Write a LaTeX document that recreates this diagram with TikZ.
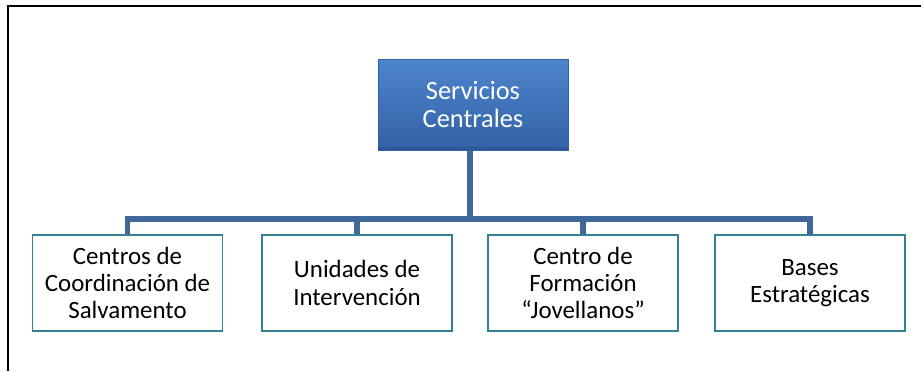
\documentclass[tikz,border=0pt]{standalone}
\usepackage{fontspec}
\setmainfont{Carlito}
\definecolor{busblue}{RGB}{64,104,152}
\definecolor{topblue}{RGB}{78,132,204}
\definecolor{topbluedark}{RGB}{50,98,166}
\definecolor{teal}{RGB}{52,128,148}
\definecolor{tealdark}{RGB}{38,94,110}
\definecolor{teallight}{RGB}{90,185,210}
\tikzset{
  childbox/.style={draw=teal, line width=1.6pt, fill=white, minimum width=190bp, minimum height=96bp, inner sep=0pt, align=center, font=\fontsize{25}{27.5}\selectfont, text=black},
  topbox/.style={draw=topbluedark, line width=0.8pt, top color=topblue, bottom color=topbluedark, minimum width=190bp, minimum height=91bp, inner sep=0pt, align=center, font=\fontsize{26.5}{28}\selectfont, text=white},
  conn/.style={draw=busblue, line width=5.5bp},
  frameline/.style={draw=black, line width=2bp}
}
\begin{document}
\begin{tikzpicture}[x=1bp,y=-1bp]
\useasboundingbox (0,0) rectangle (921,371);
\draw[frameline] (8,371) -- (8,6) -- (921,6);
\coordinate (bus) at (470,219);
\node[topbox] (top) at (473,104.5) {Servicios\\Centrales};
\node[childbox] (c1) at (127.5,283) {Centros de\\Coordinación de\\Salvamento};
\node[childbox] (c2) at (357,283) {Unidades de\\Intervención};
\node[childbox] (c3) at (583,283) {Centro de\\Formación\\“Jovellanos”};
\node[childbox] (c4) at (810,283) {Bases\\Estratégicas};
\draw[conn] (bus |- top.south) -- (bus);
\draw[conn] (c1.north) |- (bus) -| (c4.north);
\draw[conn] (c2.north) -- (c2.north |- bus);
\draw[conn] (c3.north) -- (c3.north |- bus);
% redraw boxes over the connector ends
\node[childbox] at (c1) {Centros de\\Coordinación de\\Salvamento};
\node[childbox] at (c2) {Unidades de\\Intervención};
\node[childbox] at (c3) {Centro de\\Formación\\“Jovellanos”};
\node[childbox] at (c4) {Bases\\Estratégicas};
\node[topbox] at (top) {Servicios\\Centrales};
\fill[topbluedark!80!black, opacity=0.5] (top.south west) rectangle ([yshift=3bp]top.south east);
\end{tikzpicture}
\end{document}
